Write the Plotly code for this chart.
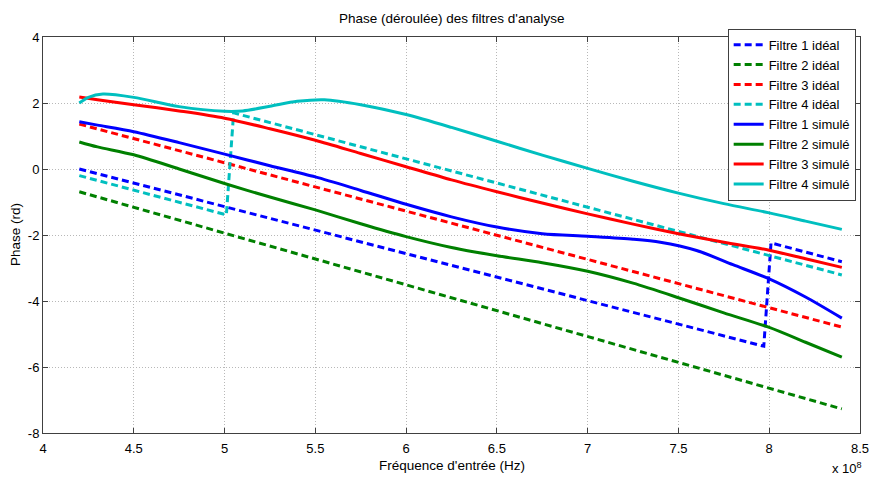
import plotly.graph_objects as go

# Frequencies in units of 1e8 Hz
f1_ideal_x = [4.2, 7.97, 8.01, 8.4]
f1_ideal_y = [0.0, -5.37, -2.24, -2.81]
f2_ideal_x = [4.2, 8.4]
f2_ideal_y = [-0.69, -7.27]
f3_ideal_x = [4.2, 8.4]
f3_ideal_y = [1.36, -4.79]
f4_ideal_x = [4.2, 5.01, 5.05, 8.4]
f4_ideal_y = [-0.2, -1.39, 1.7, -3.21]

f1_sim_x = [4.2, 4.3, 4.5, 4.75, 5.0, 5.25, 5.5, 5.75, 6.0, 6.25, 6.5, 6.75,
            7.0, 7.25, 7.4, 7.6, 7.8, 8.0, 8.2, 8.4]
f1_sim_y = [1.43, 1.33, 1.13, 0.80, 0.45, 0.10, -0.24, -0.65, -1.07, -1.45,
            -1.76, -1.96, -2.04, -2.13, -2.22, -2.47, -2.90, -3.33, -3.88, -4.52]
sim_x = [4.2, 4.3, 4.5, 4.75, 5.0, 5.25, 5.5, 5.75, 6.0, 6.25, 6.5, 6.75,
         7.0, 7.25, 7.5, 7.75, 8.0, 8.2, 8.4]
f2_sim_y = [0.82, 0.67, 0.43, 0.0, -0.44, -0.85, -1.24, -1.66, -2.05, -2.38,
            -2.63, -2.84, -3.10, -3.46, -3.90, -4.36, -4.80, -5.25, -5.70]
f3_sim_y = [2.18, 2.10, 1.95, 1.76, 1.54, 1.22, 0.87, 0.47, 0.07, -0.33,
            -0.69, -1.03, -1.36, -1.67, -1.96, -2.22, -2.46, -2.72, -2.98]
f4_sim_x = [4.2, 4.25, 4.33, 4.5, 4.75, 5.0, 5.1, 5.25, 5.4, 5.55, 5.75, 6.0,
            6.25, 6.5, 6.75, 7.0, 7.25, 7.5, 7.75, 8.0, 8.2, 8.4]
f4_sim_y = [2.0, 2.17, 2.27, 2.17, 1.89, 1.75, 1.76, 1.90, 2.05, 2.10, 1.95,
            1.65, 1.26, 0.84, 0.42, 0.02, -0.37, -0.73, -1.05, -1.33, -1.58, -1.83]

x_ticks = [4, 4.5, 5, 5.5, 6, 6.5, 7, 7.5, 8, 8.5]
x_tick_labels = ["4", "4.5", "5", "5.5", "6", "6.5", "7", "7.5", "8", "8.5"]
y_ticks = [-8, -6, -4, -2, 0, 2, 4]
y_tick_labels = ["-8", "-6", "-4", "-2", "0", "2", "4"]

BLUE = "#0000ff"
GREEN = "#008000"
RED = "#ff0000"
CYAN = "#00bfbf"
DASH = "7px,4px"
W = 3

fig = go.Figure()
ideal = [
    ("Filtre 1 idéal", f1_ideal_x, f1_ideal_y, BLUE),
    ("Filtre 2 idéal", f2_ideal_x, f2_ideal_y, GREEN),
    ("Filtre 3 idéal", f3_ideal_x, f3_ideal_y, RED),
    ("Filtre 4 idéal", f4_ideal_x, f4_ideal_y, CYAN),
]
for name, xs, ys, c in ideal:
    fig.add_trace(go.Scatter(x=xs, y=ys, mode="lines", name=name,
                             line=dict(color=c, width=W, dash=DASH)))
sim = [
    ("Filtre 1 simulé", f1_sim_x, f1_sim_y, BLUE),
    ("Filtre 2 simulé", sim_x, f2_sim_y, GREEN),
    ("Filtre 3 simulé", sim_x, f3_sim_y, RED),
    ("Filtre 4 simulé", f4_sim_x, f4_sim_y, CYAN),
]
for name, xs, ys, c in sim:
    fig.add_trace(go.Scatter(x=xs, y=ys, mode="lines", name=name,
                             line=dict(color=c, width=W, shape="spline", smoothing=0.8)))

FONT = "Liberation Sans, Arial, sans-serif"
axis_common = dict(
    showline=True, linecolor="#404040", linewidth=1, mirror="ticks",
    ticks="inside", ticklen=5, tickcolor="#404040",
    showgrid=True, gridcolor="#b8b8b8", griddash="1px,2px", gridwidth=1,
    zeroline=False, tickfont=dict(family=FONT, size=13, color="#000"),
    automargin=False, ticklabeloverflow="allow",
)
fig.update_layout(
    width=869, height=479,
    margin=dict(l=43, r=9, t=37, b=46, autoexpand=False),
    paper_bgcolor="white", plot_bgcolor="white",
    showlegend=True,
    font=dict(family=FONT, size=13, color="#000"),
    xaxis=dict(range=[4, 8.5], tickvals=x_ticks, ticktext=x_tick_labels,
               ticklabelstandoff=3, **axis_common),
    yaxis=dict(range=[-8, 4], tickvals=y_ticks, ticktext=y_tick_labels, **axis_common),
    legend=dict(x=0.9947, y=1.021, xanchor="right", yanchor="top",
                bgcolor="white", bordercolor="#404040", borderwidth=1,
                font=dict(family=FONT, size=13, color="#000"),
                tracegroupgap=0, itemwidth=30),
    annotations=[
        dict(text="Phase (déroulée) des filtres d'analyse", x=0.5, y=1, xref="paper", yref="paper",
             yshift=19, xanchor="center", yanchor="middle", showarrow=False,
             font=dict(family=FONT, size=13.5)),
        dict(text="Fréquence d'entrée (Hz)", x=0.5, y=0, xref="paper", yref="paper",
             yshift=-32, xanchor="center", yanchor="middle", showarrow=False,
             font=dict(family=FONT, size=13.5)),
        dict(text="Phase (rd)", x=0, y=0.5, xref="paper", yref="paper", textangle=-90,
             xshift=-28, xanchor="center", yanchor="middle", showarrow=False,
             font=dict(family=FONT, size=13.5)),
        dict(text="x 10<sup>8</sup>", x=1, y=0, xref="paper", yref="paper",
             xshift=4, yshift=-35, xanchor="right", yanchor="middle", showarrow=False,
             font=dict(family=FONT, size=13)),
    ],
)
fig.write_html("out.html", config={"displayModeBar": False},
               post_script="document.body.style.margin='0';document.body.style.padding='0';")
